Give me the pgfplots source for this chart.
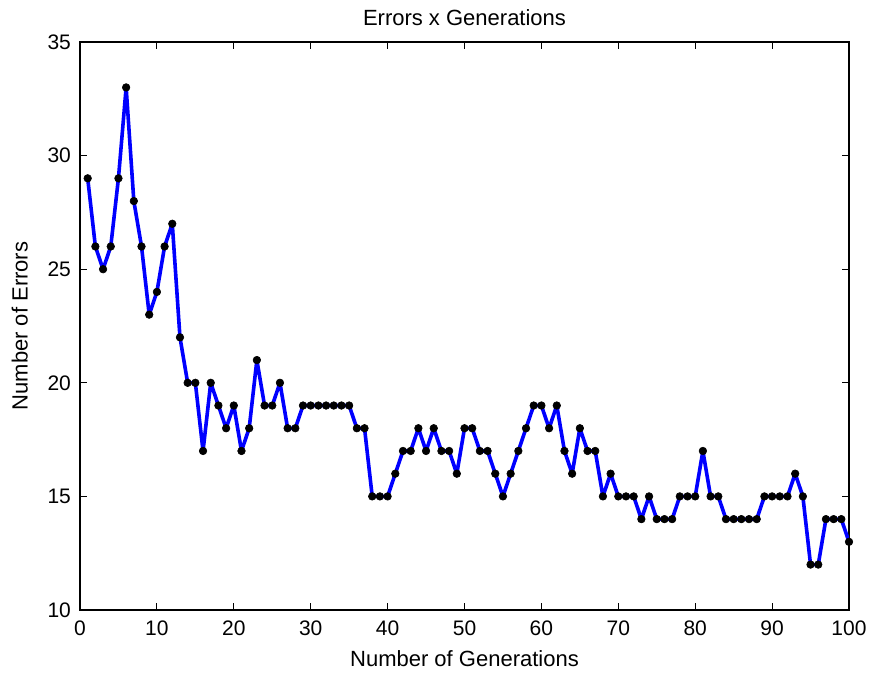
\documentclass[border=0pt]{standalone}
\usepackage{pgfplots}
\pgfplotsset{compat=1.18}
\usepackage{fontspec}
\setmainfont{Liberation Sans}
\begin{document}
\begin{tikzpicture}
\begin{axis}[
  scale only axis, width=384.5pt, height=284pt,
  xmin=0, xmax=100, ymin=10, ymax=35,
  xtick={0,10,...,100}, ytick={10,15,...,35},
  tick align=inside, major tick length=3.5pt,
  axis line style={line width=0.6pt},
  every tick/.style={black, line width=0.5pt},
  tick label style={font=\fontsize{10.5}{12}\selectfont},
  /pgf/number format/assume math mode=true,
  xticklabel style={yshift=-2pt},
  yticklabel style={xshift=-1pt},
  label style={font=\fontsize{11}{13}\selectfont},
  title style={font=\fontsize{11}{13}\selectfont, yshift=-1.5pt},
  title={Errors x Generations},
  xlabel={Number of Generations},
  ylabel={Number of Errors},
  xlabel style={yshift=-0.5pt},
  ylabel style={yshift=3pt},
]
\addplot[blue, line width=1.8pt, line join=round, mark=*, mark size=1.9pt,
  mark options={black, fill=black, line width=0.3pt}] coordinates {
(1,29) (2,26) (3,25) (4,26) (5,29) (6,33) (7,28) (8,26) (9,23) (10,24)
(11,26) (12,27) (13,22) (14,20) (15,20) (16,17) (17,20) (18,19) (19,18) (20,19)
(21,17) (22,18) (23,21) (24,19) (25,19) (26,20) (27,18) (28,18) (29,19) (30,19)
(31,19) (32,19) (33,19) (34,19) (35,19) (36,18) (37,18) (38,15) (39,15) (40,15)
(41,16) (42,17) (43,17) (44,18) (45,17) (46,18) (47,17) (48,17) (49,16) (50,18)
(51,18) (52,17) (53,17) (54,16) (55,15) (56,16) (57,17) (58,18) (59,19) (60,19)
(61,18) (62,19) (63,17) (64,16) (65,18) (66,17) (67,17) (68,15) (69,16) (70,15)
(71,15) (72,15) (73,14) (74,15) (75,14) (76,14) (77,14) (78,15) (79,15) (80,15)
(81,17) (82,15) (83,15) (84,14) (85,14) (86,14) (87,14) (88,14) (89,15) (90,15)
(91,15) (92,15) (93,16) (94,15) (95,12) (96,12) (97,14) (98,14) (99,14) (100,13)
};
\end{axis}
\pgfresetboundingbox
\path[use as bounding box] (-40pt,-32.5pt) rectangle (396pt,305pt);
\end{tikzpicture}
\end{document}
